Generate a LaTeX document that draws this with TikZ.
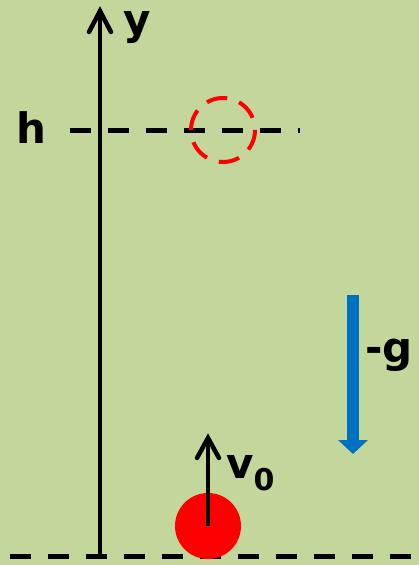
\documentclass[tikz,border=0pt]{standalone}
\usepackage{fontspec}
\setmainfont{DejaVu Sans}
\usetikzlibrary{arrows.meta}
\definecolor{bggreen}{RGB}{195,214,155}
\definecolor{gblue}{RGB}{0,112,192}

\begin{document}
\begin{tikzpicture}[x=1pt, y=-1pt,
    lbl/.style={font=\fontsize{42}{42}\selectfont\bfseries, inner sep=0pt},
    barb/.style={line width=4.5pt, line cap=round, line join=miter},
    groundline/.style={line width=5pt, dash pattern=on 21pt off 17pt}]
          \fill[bggreen] (0,0) rectangle (419,565);
          \useasboundingbox (0,0) rectangle (419,565);
          % axis and levels
          \coordinate (o) at (100,556);
          \coordinate (ytop) at (100,11);
          \draw[line width=4.5pt] (o) -- (ytop);
          \draw[barb] (ytop) ++(-11,21) -- (ytop) -- ++(11,21);
          \node[lbl, anchor=base] (ylab) at (137,34) {y};
          \coordinate (hl) at (70,130);
          \coordinate (hr) at (300,130);
          \draw[groundline] (hl) -- (hr);
          \node[lbl, anchor=base] (hlab) at (31,143) {h};
          \coordinate (gl) at (10,556);
          \coordinate (gr) at (419,556);
          \draw[groundline] (gl) -- (gr);
          % ball at top and at start
          \coordinate (btop) at (223,130);
          \draw[red, line width=4pt, dash pattern=on 21pt off 12.5pt] (btop) circle (32);
          \coordinate (ball) at (208,526);
          \fill[red] (ball) circle (33);
          \coordinate (vtip) at (208,438);
          \draw[line width=4pt] (ball) -- (vtip);
          \draw[barb] (vtip) ++(-11,20) -- (vtip) -- ++(11,20);
          \node[lbl, anchor=base west] (vlab) at (226,478) {v\raisebox{-12pt}{\fontsize{30}{30}\selectfont 0}};
          % gravity
          \coordinate (gtop) at (353,295);
          \coordinate (gbot) at (353,454);
          \draw[gblue, line width=12pt, -{Triangle[length=14pt, width=29pt]}] (gtop) -- (gbot);
          \node[lbl, anchor=base west] (glab) at (365,362) {-g};
        \end{tikzpicture}
\end{document}
